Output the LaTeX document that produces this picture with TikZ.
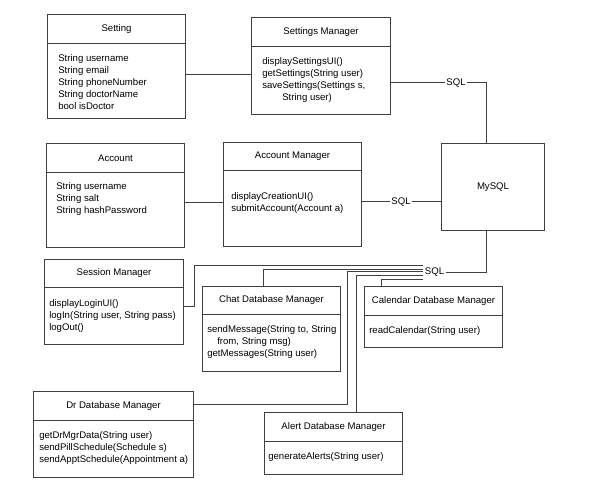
\documentclass[tikz,border=0pt]{standalone}
\usepackage{fontspec}
\setmainfont{Liberation Sans}
\usetikzlibrary{calc, positioning}

\tikzset{
  hdr/.style={draw=black!75, line width=0.75pt, inner sep=0pt, anchor=north west,
    font=\fontsize{7.2}{9}\selectfont},
  members/.style={anchor=north west, align=left, inner sep=0pt,
    font=\fontsize{7.2}{9}\selectfont},
  sqltag/.style={inner sep=1pt, font=\fontsize{7.2}{9}\selectfont},
  link/.style={draw=black!75, line width=0.75pt},
}

% class box: name, left, top, right, divider, bottom, title, members, text offset
\newcommand{\classbox}[9]{%
  \node[hdr, minimum width={(#4-#2)*0.75pt}, minimum height={(#5-#3)*0.75pt}] (#1) at (#2,#3) {#7};
  \node[hdr, minimum width={(#4-#2)*0.75pt}, minimum height={(#6-#5)*0.75pt}] (#1-body) at (#2,#5) {};
  \node[members] at ($(#1-body.north west)+#9$) {#8};
}

\begin{document}
\begin{tikzpicture}[x=0.75pt, y=-0.75pt]
  \useasboundingbox (0,0) rectangle (600,498);

  % --- classes ---
  \classbox{set}{47}{14}{185}{43}{118}{Setting}
    {String username\\String email\\String phoneNumber\\String doctorName\\bool isDoctor}{(11,11)}
  \classbox{smgr}{251}{17}{390}{46}{114}{Settings Manager}
    {displaySettingsUI()\\getSettings(String user)\\saveSettings(Settings s,\\\hspace*{15pt}String user)}{(11,11)}
  \classbox{acc}{46}{143}{184}{172}{247}{Account}
    {String username\\String salt\\String hashPassword}{(10,10)}
  \classbox{amgr}{223}{142}{361}{170}{246}{Account Manager}
    {displayCreationUI()\\submitAccount(Account a)}{(8,22)}
  \classbox{sess}{44}{259}{183}{287}{344}{Session Manager}
    {displayLoginUI()\\logIn(String user, String pass)\\logOut()}{(5,12)}
  \classbox{chat}{202}{286}{340}{314}{371}{Chat Database Manager}
    {sendMessage(String to, String\\\hspace*{7.5pt}from, String msg)\\getMessages(String user)}{(5,11)}
  \classbox{cal}{364}{286}{502}{315}{347}{Calendar Database Manager}
    {readCalendar(String user)}{(5,11)}
  \classbox{dr}{33}{391}{193}{420}{477}{Dr Database Manager}
    {getDrMgrData(String user)\\sendPillSchedule(Schedule s)\\sendApptSchedule(Appointment a)}{(6,11)}
  \classbox{alert}{264}{412}{402}{441}{474}{Alert Database Manager}
    {generateAlerts(String user)}{(4,11)}

  % --- database ---
  \node[hdr, minimum width=77.25pt, minimum height=65.25pt] (mysql) at (441,143) {MySQL};

  % SQL tags
  \node[sqltag] (sqlS) at (456,83) {SQL};
  \node[sqltag] (sqlA) at (401,202) {SQL};
  \node[sqltag] (sqlB) at (434.5,272.5) {SQL};

  % --- connectors ---
  \draw[link] ([yshift=4.9pt]set-body.east) coordinate (s1) -- (smgr-body.west |- s1);
  \draw[link] ([yshift=5.6pt]acc-body.east) coordinate (a1) -- (amgr-body.west |- a1);

  \draw[link] (smgr-body.east |- sqlS) -- (sqlS) -| ([xshift=-4.9pt]mysql.north);
  \draw[link] (amgr-body.east |- sqlA) -- (sqlA) -- (mysql.west |- sqlA);
  \draw[link] ([xshift=-4.9pt]mysql.south) |- (sqlB);

  % managers into the lower SQL tag
  \draw[link] ([yshift=7.1pt]sess-body.east) -- ++(10,0) |- ([yshift=4.9pt]sqlB.west);
  \draw[link] ([xshift=-6pt]chat.north) |- ([yshift=2.6pt]sqlB.west);
  \draw[link] ([yshift=1.1pt]dr.east) -- ++(153,0) |- ([yshift=0.4pt]sqlB.west);
  \draw[link] ([xshift=17.25pt]alert.north) |- ([yshift=-2.6pt]sqlB.west);
  \draw[link] ([xshift=-39pt]cal.north) |- ([yshift=-5.6pt]sqlB.west);
\end{tikzpicture}
\end{document}
